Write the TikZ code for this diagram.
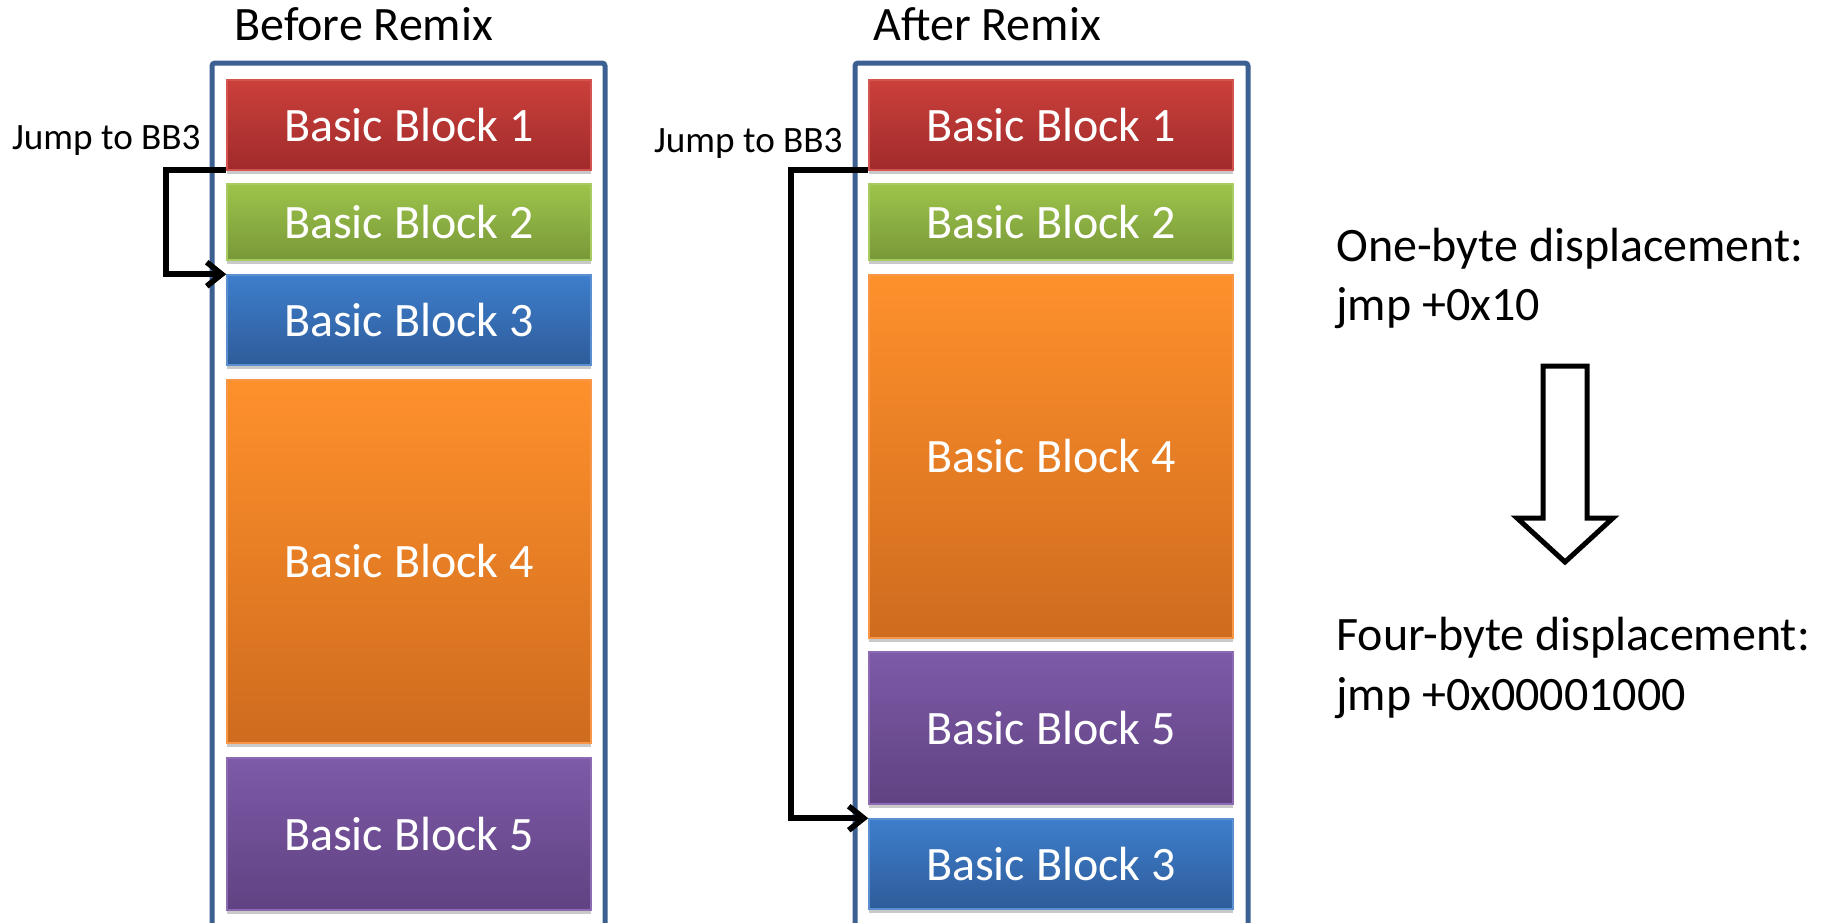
\documentclass[tikz,border=0pt]{standalone}
\usepackage{fontspec}
\setmainfont{Carlito}
\usetikzlibrary{arrows.meta,shadows}

\definecolor{frameblue}{HTML}{3B6091}
\definecolor{redtop}{HTML}{CB403B}
\definecolor{redbot}{HTML}{A02B2B}
\definecolor{redline}{HTML}{D35450}
\definecolor{greentop}{HTML}{9EC44B}
\definecolor{greenbot}{HTML}{789838}
\definecolor{greenline}{HTML}{A9CC62}
\definecolor{bluetop}{HTML}{3E7ECC}
\definecolor{bluebot}{HTML}{2E5C9A}
\definecolor{blueline}{HTML}{5A8FD2}
\definecolor{orangetop}{HTML}{FF912C}
\definecolor{orangebot}{HTML}{CE6B1E}
\definecolor{orangeline}{HTML}{F79646}
\definecolor{purpletop}{HTML}{7E5AA8}
\definecolor{purplebot}{HTML}{604282}
\definecolor{purpleline}{HTML}{8C6BB2}

\tikzset{
  mainfont/.style={font=\fontsize{24}{29}\selectfont},
  blk/.style={mainfont, text=white, inner sep=0pt, minimum width=182pt,
    line width=0.8pt,
    drop shadow={shadow xshift=0pt, shadow yshift=-2pt, opacity=0.3, fill=black!70}},
  redblk/.style={blk, draw=redline, top color=redtop, bottom color=redbot},
  greenblk/.style={blk, draw=greenline, top color=greentop, bottom color=greenbot},
  blueblk/.style={blk, draw=blueline, top color=bluetop, bottom color=bluebot},
  orangeblk/.style={blk, draw=orangeline, top color=orangetop, bottom color=orangebot},
  purpleblk/.style={blk, draw=purpleline, top color=purpletop, bottom color=purplebot},
  frame/.style={draw=frameblue, line width=2.5pt, rounded corners=1.5pt},
  title/.style={mainfont, inner sep=0pt, anchor=base west},
  note/.style={font=\fontsize{18.6}{22}\selectfont, inner sep=0pt, anchor=base east},
  info/.style={mainfont, inner sep=0pt, anchor=base west},
  jump/.style={draw=black, line width=2.8pt,
    -{Straight Barb[length=7.5pt, width=12pt, line width=2.8pt]}},
  bigarrow/.style={draw=black, line width=2.5pt, fill=white, line join=miter}
}

\begin{document}
\begin{tikzpicture}[x=0.5pt, y=-0.5pt]
  \path[use as bounding box] (0,0) rectangle (1827,922);

  % column frames, running off the bottom edge
  \begin{scope}
    \clip (0,0) rectangle (1827,922);
    \draw[frame] (212,960) -- (212,63) -- (605,63) -- (605,960);
    \draw[frame] (855,960) -- (855,63) -- (1248,63) -- (1248,960);
  \end{scope}

  % titles
  \node[title] (tb) at (234,40) {Before Remix};
  \node[title] (ta) at (873,40) {After Remix};

  % layout before the remix
  \node[redblk,    minimum height=45pt]   (L1) at (409,125)   {Basic Block 1};
  \node[greenblk,  minimum height=38pt]   (L2) at (409,222)   {Basic Block 2};
  \node[blueblk,   minimum height=45pt]   (L3) at (409,320)   {Basic Block 3};
  \node[orangeblk, minimum height=181.5pt](L4) at (409,561.5) {Basic Block 4};
  \node[purpleblk, minimum height=76pt]   (L5) at (409,834)   {Basic Block 5};

  % layout after the remix
  \node[redblk,    minimum height=45pt]   (R1) at (1051,125)   {Basic Block 1};
  \node[greenblk,  minimum height=38pt]   (R2) at (1051,222)   {Basic Block 2};
  \node[orangeblk, minimum height=181.5pt](R4) at (1051,456.5) {Basic Block 4};
  \node[purpleblk, minimum height=76pt]   (R5) at (1051,728)   {Basic Block 5};
  \node[blueblk,   minimum height=45pt]   (R3) at (1051,864)   {Basic Block 3};

  % jump labels
  \node[note] (jl) at (201,149) {Jump to BB3};
  \node[note] (jr) at (843,152) {Jump to BB3};

  % jumps from the end of block 1 to block 3
  \draw[jump] ([yshift=0.5pt]L1.south west) -- ++(-60,0) |- (L3.north west);
  \draw[jump] ([yshift=0.5pt]R1.south west) -- ++(-77,0) |- (R3.north west);

  % displacement sizes
  \node[info] (d1) at (1336,261) {One-byte displacement:};
  \node[info] (j1) at (1336,320) {jmp +0x10};
  \node[info] (d2) at (1336,650) {Four-byte displacement:};
  \node[info] (j2) at (1336,710) {jmp +0x00001000};

  % hollow down arrow between the two encodings
  \draw[bigarrow] (1543,366) -- (1587,366) -- (1587,518) -- (1613,518)
    -- (1565,562) -- (1517,518) -- (1543,518) -- cycle;
\end{tikzpicture}
\end{document}
